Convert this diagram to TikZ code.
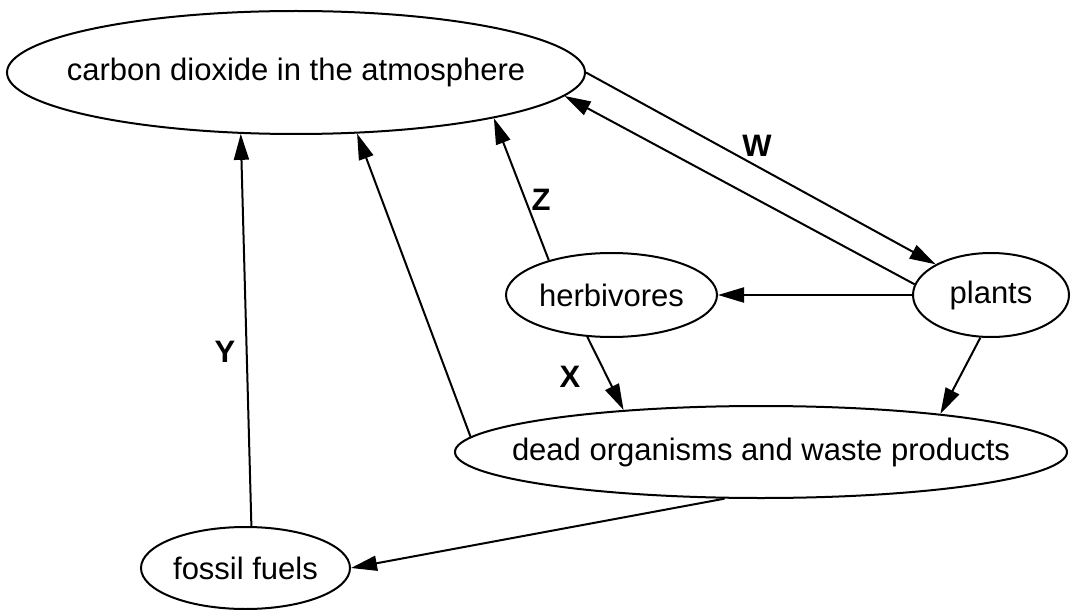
\documentclass[tikz,border=0pt]{standalone}
\usepackage{fontspec}
\setmainfont{Liberation Sans}
\usetikzlibrary{shapes.geometric,arrows.meta}
\newcommand{\inoval}[1]{\makebox[0pt]{#1}}
\begin{document}
\begin{tikzpicture}[x=0.5pt,y=-0.5pt,line width=1pt,font=\fontsize{15.5}{18}\selectfont,
  oval/.style={ellipse,draw,inner sep=0pt},
  flow/.style={-{Triangle[length=13pt,width=7.5pt]}},
  tag/.style={font=\fontsize{15.5}{18}\selectfont\bfseries}]
\useasboundingbox (0,0) rectangle (1071,610);
%\draw[teal,step=50] (0,0) grid (1071,610);
\node[oval,minimum width=289pt,minimum height=61.5pt] (co2) at(296,72.5) {\inoval{carbon dioxide in the atmosphere}};
\node[oval,minimum width=105.5pt,minimum height=42pt] (herb) at(611.5,295) {\inoval{herbivores}};
\node[oval,minimum width=78pt,minimum height=42pt] (plants) at(991,295) {\inoval{plants}};
\node[oval,minimum width=306pt,minimum height=46pt] (dead) at(761,452) {\inoval{dead organisms and waste products}};
\node[oval,minimum width=104.5pt,minimum height=41pt] (fossil) at(245.5,568) {\inoval{fossil fuels}};
\draw[flow] (co2.0) -- (plants.151.4);
\draw[flow] (plants.172.5) -- (co2.-5.4);
\draw[flow] (plants.west) -- (herb.east);
\draw[flow] (herb.151) -- (co2.-13.3);
\draw[flow] (herb.-120.3) -- (dead.163.5);
\draw[flow] (plants.-104.7) -- (dead.12);
\draw[flow] (dead.177.2) -- (co2.-45.1);
\draw[flow] (fossil.82.4) -- (co2.-132.3);
\draw[flow] (dead.-128.2) -- (fossil.east);
\node[tag] (w) at(757,146) {W}; \node[tag] (z) at(541,200) {Z};
\node[tag] (x) at(570,377) {X}; \node[tag] (y) at(225,352) {Y};
\end{tikzpicture}
\end{document}
